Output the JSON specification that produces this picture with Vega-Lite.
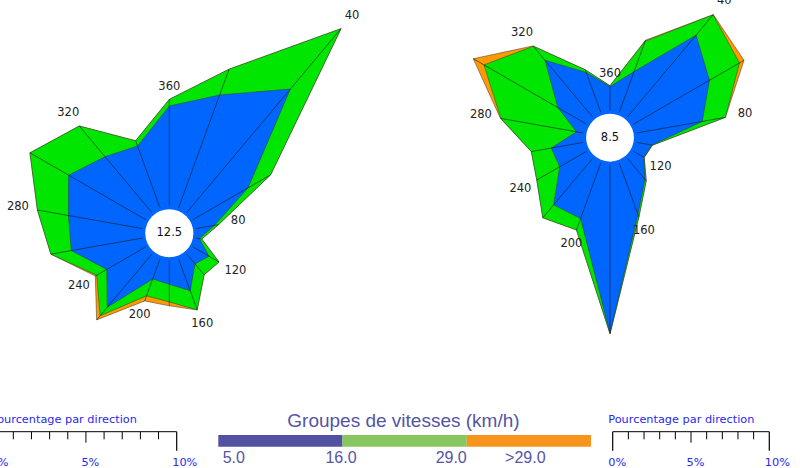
{
  "$schema": "https://vega.github.io/schema/vega-lite/v6.json",
  "width": 800,
  "height": 468,
  "autosize": {"type": "none"},
  "padding": 0,
  "background": "#ffffff",
  "config": {"view": {"stroke": null}},
  "datasets": {
    "rose": [
      {"rose": "A", "dir": 20, "v05": 6.68, "v16": 1.52, "v29": 0},
      {"rose": "A", "dir": 40, "v05": 8.96, "v16": 4.38, "v29": 0},
      {"rose": "A", "dir": 60, "v05": 3.55, "v16": 1.45, "v29": 0},
      {"rose": "A", "dir": 80, "v05": 1.05, "v16": 0.23, "v29": 0},
      {"rose": "A", "dir": 100, "v05": 0.2, "v16": 0.13, "v29": 0},
      {"rose": "A", "dir": 120, "v05": 1.04, "v16": 0.65, "v29": 0},
      {"rose": "A", "dir": 140, "v05": 0.72, "v16": 0.79, "v29": 0},
      {"rose": "A", "dir": 160, "v05": 1.89, "v16": 1.14, "v29": 0},
      {"rose": "A", "dir": 180, "v05": 1.33, "v16": 0.98, "v29": 0.22},
      {"rose": "A", "dir": 200, "v05": 1.2, "v16": 1.0, "v29": 0.3},
      {"rose": "A", "dir": 220, "v05": 3.86, "v16": 0.62, "v29": 0.3},
      {"rose": "A", "dir": 240, "v05": 2.51, "v16": 0.65, "v29": 0.09},
      {"rose": "A", "dir": 260, "v05": 4.03, "v16": 1.15, "v29": 0},
      {"rose": "A", "dir": 280, "v05": 4.19, "v16": 1.75, "v29": 0},
      {"rose": "A", "dir": 300, "v05": 4.96, "v16": 2.48, "v29": 0},
      {"rose": "A", "dir": 320, "v05": 4.06, "v16": 2.22, "v29": 0},
      {"rose": "A", "dir": 340, "v05": 3.66, "v16": 0.31, "v29": 0},
      {"rose": "A", "dir": 360, "v05": 5.57, "v16": 0.37, "v29": 0},
      {"rose": "B", "dir": 20, "v05": 2.78, "v16": 2.07, "v29": 0.07},
      {"rose": "B", "dir": 40, "v05": 6.85, "v16": 1.7, "v29": 0.02},
      {"rose": "B", "dir": 60, "v05": 5.63, "v16": 2.22, "v29": 0.34},
      {"rose": "B", "dir": 80, "v05": 4.27, "v16": 1.51, "v29": 0},
      {"rose": "B", "dir": 100, "v05": 1.0, "v16": 0.03, "v29": 0},
      {"rose": "B", "dir": 120, "v05": 0.77, "v16": 0.03, "v29": 0},
      {"rose": "B", "dir": 140, "v05": 1.75, "v16": 0.13, "v29": 0},
      {"rose": "B", "dir": 160, "v05": 3.5, "v16": 0.18, "v29": 0},
      {"rose": "B", "dir": 180, "v05": 10.8, "v16": 0.03, "v29": 0},
      {"rose": "B", "dir": 200, "v05": 3.78, "v16": 0.78, "v29": 0},
      {"rose": "B", "dir": 220, "v05": 3.89, "v16": 1.08, "v29": 0},
      {"rose": "B", "dir": 240, "v05": 1.99, "v16": 1.7, "v29": 0},
      {"rose": "B", "dir": 260, "v05": 2.09, "v16": 1.3, "v29": 0},
      {"rose": "B", "dir": 280, "v05": 0.45, "v16": 4.92, "v29": 0.03},
      {"rose": "B", "dir": 300, "v05": 2.13, "v16": 5.47, "v29": 0.79},
      {"rose": "B", "dir": 320, "v05": 4.75, "v16": 1.17, "v29": 0.03},
      {"rose": "B", "dir": 340, "v05": 2.72, "v16": 0.18, "v29": 0},
      {"rose": "B", "dir": 360, "v05": 1.55, "v16": 0.05, "v29": 0}
    ],
    "calme": [
      {"rose": "A", "calme": 12.5},
      {"rose": "B", "calme": 8.5}
    ],
    "classes": [
      {"vmin": 5},
      {"vmin": 16},
      {"vmin": 29}
    ],
    "echelle": [
      {"pct": 0}, {"pct": 1}, {"pct": 2}, {"pct": 3}, {"pct": 4}, {"pct": 5},
      {"pct": 6}, {"pct": 7}, {"pct": 8}, {"pct": 9}, {"pct": 10}
    ]
  },
  "layer": [
    {
      "layer": [
        {
          "data": {"name": "rose"},
          "transform": [
            {"filter": "datum.rose == 'A'"},
            {"fold": ["v05", "v16", "v29"], "as": ["classe", "pct"]},
            {"window": [{"op": "sum", "field": "pct", "as": "cum"}], "groupby": ["dir"], "sort": [{"field": "classe", "order": "ascending"}], "frame": [null, 0]},
            {"calculate": "1.5 + datum.cum", "as": "r"},
            {"calculate": "datum.dir * PI / 180", "as": "theta"},
            {"calculate": "datum.r * sin(datum.theta)", "as": "px"},
            {"calculate": "datum.r * cos(datum.theta)", "as": "py"}
          ],
          "encoding": {
            "x": {"field": "px", "type": "quantitative", "scale": {"domain": [-9.406, 35.039], "nice": false, "zero": false}, "axis": null},
            "y": {"field": "py", "type": "quantitative", "scale": {"domain": [-13.039, 12.961], "nice": false, "zero": false}, "axis": null}
          },
          "layer": [
            {
              "transform": [{"filter": "datum.classe == 'v29'"}],
              "mark": {"type": "line", "interpolate": "linear-closed", "filled": true, "fill": "#ff9900", "stroke": "#333333", "strokeWidth": 0.5},
              "encoding": {"order": {"field": "dir", "type": "quantitative"}}
            },
            {
              "transform": [{"filter": "datum.classe == 'v16'"}],
              "mark": {"type": "line", "interpolate": "linear-closed", "filled": true, "fill": "#00e600", "stroke": "#333333", "strokeWidth": 0.5},
              "encoding": {"order": {"field": "dir", "type": "quantitative"}}
            },
            {
              "transform": [{"filter": "datum.classe == 'v05'"}],
              "mark": {"type": "line", "interpolate": "linear-closed", "filled": true, "fill": "#0066ff", "stroke": "#333333", "strokeWidth": 0.5},
              "encoding": {"order": {"field": "dir", "type": "quantitative"}}
            },
            {
              "transform": [
                {"filter": "datum.classe == 'v29'"},
                {"calculate": "1.5 * sin(datum.theta)", "as": "sx"},
                {"calculate": "1.5 * cos(datum.theta)", "as": "sy"}
              ],
              "mark": {"type": "rule", "color": "#1a1a1a", "strokeWidth": 0.6},
              "encoding": {"x2": {"field": "sx"}, "y2": {"field": "sy"}}
            },
            {
              "transform": [
                {"filter": "datum.classe == 'v29' && datum.dir % 40 == 0"},
                {"calculate": "datum.r + (12 + 8 * abs(sin(datum.theta))) / 18", "as": "lr"},
                {"calculate": "datum.lr * sin(datum.theta)", "as": "lx"},
                {"calculate": "datum.lr * cos(datum.theta)", "as": "ly"}
              ],
              "mark": {"type": "text", "font": "DejaVu Sans", "fontSize": 11.5, "color": "#222222", "align": "center", "baseline": "middle"},
              "encoding": {
                "x": {"field": "lx", "type": "quantitative", "scale": {"domain": [-9.406, 35.039], "nice": false, "zero": false}, "axis": null},
                "y": {"field": "ly", "type": "quantitative", "scale": {"domain": [-13.039, 12.961], "nice": false, "zero": false}, "axis": null},
                "text": {"field": "dir", "type": "quantitative"}
              }
            }
          ]
        },
        {
          "data": {"name": "calme"},
          "transform": [{"filter": "datum.rose == 'A'"}],
          "encoding": {
            "x": {"datum": 0, "type": "quantitative", "scale": {"domain": [-9.406, 35.039], "nice": false, "zero": false}, "axis": null},
            "y": {"datum": 0, "type": "quantitative", "scale": {"domain": [-13.039, 12.961], "nice": false, "zero": false}, "axis": null}
          },
          "layer": [
            {"mark": {"type": "point", "shape": "circle", "filled": true, "color": "#ffffff", "opacity": 1, "size": 2316, "strokeWidth": 0}},
            {"mark": {"type": "text", "font": "DejaVu Sans", "fontSize": 11.5, "color": "#111111", "align": "center", "baseline": "middle"},
             "encoding": {"text": {"field": "calme", "type": "quantitative", "format": ".1f"}}}
          ]
        }
      ]
    },
    {
      "layer": [
        {
          "data": {"name": "rose"},
          "transform": [
            {"filter": "datum.rose == 'B'"},
            {"fold": ["v05", "v16", "v29"], "as": ["classe", "pct"]},
            {"window": [{"op": "sum", "field": "pct", "as": "cum"}], "groupby": ["dir"], "sort": [{"field": "classe", "order": "ascending"}], "frame": [null, 0]},
            {"calculate": "1.731 + datum.cum", "as": "r"},
            {"calculate": "datum.dir * PI / 180", "as": "theta"},
            {"calculate": "datum.r * sin(datum.theta)", "as": "px"},
            {"calculate": "datum.r * cos(datum.theta)", "as": "py"}
          ],
          "encoding": {
            "x": {"field": "px", "type": "quantitative", "scale": {"domain": [-39.103, 12.179], "nice": false, "zero": false}, "axis": null},
            "y": {"field": "py", "type": "quantitative", "scale": {"domain": [-21.173, 8.827], "nice": false, "zero": false}, "axis": null}
          },
          "layer": [
            {
              "transform": [{"filter": "datum.classe == 'v29'"}],
              "mark": {"type": "line", "interpolate": "linear-closed", "filled": true, "fill": "#ff9900", "stroke": "#333333", "strokeWidth": 0.5},
              "encoding": {"order": {"field": "dir", "type": "quantitative"}}
            },
            {
              "transform": [{"filter": "datum.classe == 'v16'"}],
              "mark": {"type": "line", "interpolate": "linear-closed", "filled": true, "fill": "#00e600", "stroke": "#333333", "strokeWidth": 0.5},
              "encoding": {"order": {"field": "dir", "type": "quantitative"}}
            },
            {
              "transform": [{"filter": "datum.classe == 'v05'"}],
              "mark": {"type": "line", "interpolate": "linear-closed", "filled": true, "fill": "#0066ff", "stroke": "#333333", "strokeWidth": 0.5},
              "encoding": {"order": {"field": "dir", "type": "quantitative"}}
            },
            {
              "transform": [
                {"filter": "datum.classe == 'v29'"},
                {"calculate": "1.731 * sin(datum.theta)", "as": "sx"},
                {"calculate": "1.731 * cos(datum.theta)", "as": "sy"}
              ],
              "mark": {"type": "rule", "color": "#1a1a1a", "strokeWidth": 0.6},
              "encoding": {"x2": {"field": "sx"}, "y2": {"field": "sy"}}
            },
            {
              "transform": [
                {"filter": "datum.classe == 'v29' && datum.dir % 40 == 0"},
                {"calculate": "datum.r + (12 + 8 * abs(sin(datum.theta))) / 15.6", "as": "lr"},
                {"calculate": "datum.lr * sin(datum.theta)", "as": "lx"},
                {"calculate": "datum.lr * cos(datum.theta)", "as": "ly"}
              ],
              "mark": {"type": "text", "font": "DejaVu Sans", "fontSize": 11.5, "color": "#222222", "align": "center", "baseline": "middle"},
              "encoding": {
                "x": {"field": "lx", "type": "quantitative", "scale": {"domain": [-39.103, 12.179], "nice": false, "zero": false}, "axis": null},
                "y": {"field": "ly", "type": "quantitative", "scale": {"domain": [-21.173, 8.827], "nice": false, "zero": false}, "axis": null},
                "text": {"field": "dir", "type": "quantitative"}
              }
            }
          ]
        },
        {
          "data": {"name": "calme"},
          "transform": [{"filter": "datum.rose == 'B'"}],
          "encoding": {
            "x": {"datum": 0, "type": "quantitative", "scale": {"domain": [-39.103, 12.179], "nice": false, "zero": false}, "axis": null},
            "y": {"datum": 0, "type": "quantitative", "scale": {"domain": [-21.173, 8.827], "nice": false, "zero": false}, "axis": null}
          },
          "layer": [
            {"mark": {"type": "point", "shape": "circle", "filled": true, "color": "#ffffff", "opacity": 1, "size": 2290, "strokeWidth": 0}},
            {"mark": {"type": "text", "font": "DejaVu Sans", "fontSize": 11.5, "color": "#111111", "align": "center", "baseline": "middle"},
             "encoding": {"text": {"field": "calme", "type": "quantitative", "format": ".1f"}}}
          ]
        }
      ]
    },
    {
      "data": {"name": "classes"},
      "encoding": {
        "x": {"field": "vmin", "type": "ordinal", "scale": {"range": [218.3, 591], "paddingInner": 0, "paddingOuter": 0}, "axis": null},
        "y": {"datum": 435, "type": "quantitative", "scale": {"domain": [468, 0], "nice": false, "zero": false}, "axis": null}
      },
      "layer": [
        {
          "mark": {"type": "bar"},
          "encoding": {
            "y2": {"datum": 446.7},
            "color": {"field": "vmin", "type": "ordinal", "scale": {"domain": [5, 16, 29], "range": ["#5252a2", "#88c65f", "#f7941e"]}, "legend": null}
          }
        },
        {
          "transform": [{"filter": "datum.vmin == 16"}],
          "mark": {"type": "text", "font": "Liberation Sans", "fontSize": 19, "color": "#5454a4", "align": "center", "baseline": "alphabetic", "dx": -1.2},
          "encoding": {
            "y": {"datum": 426.5, "type": "quantitative", "scale": {"domain": [468, 0], "nice": false, "zero": false}, "axis": null},
            "text": {"value": "Groupes de vitesses (km/h)"}
          }
        },
        {
          "transform": [{"filter": "datum.vmin == 5"}],
          "mark": {"type": "text", "font": "Liberation Sans", "fontSize": 16, "color": "#5454a4", "align": "left", "baseline": "alphabetic", "dx": 4.4},
          "encoding": {
            "x": {"field": "vmin", "type": "ordinal", "bandPosition": 0, "scale": {"range": [218.3, 591], "paddingInner": 0, "paddingOuter": 0}, "axis": null},
            "y": {"datum": 462.5, "type": "quantitative", "scale": {"domain": [468, 0], "nice": false, "zero": false}, "axis": null},
            "text": {"field": "vmin", "type": "quantitative", "format": ".1f"}
          }
        },
        {
          "transform": [{"filter": "datum.vmin == 16"}],
          "mark": {"type": "text", "font": "Liberation Sans", "fontSize": 16, "color": "#5454a4", "align": "center", "baseline": "alphabetic", "dx": -1.5},
          "encoding": {
            "x": {"field": "vmin", "type": "ordinal", "bandPosition": 0, "scale": {"range": [218.3, 591], "paddingInner": 0, "paddingOuter": 0}, "axis": null},
            "y": {"datum": 462.5, "type": "quantitative", "scale": {"domain": [468, 0], "nice": false, "zero": false}, "axis": null},
            "text": {"field": "vmin", "type": "quantitative", "format": ".1f"}
          }
        },
        {
          "transform": [{"filter": "datum.vmin == 29"}],
          "mark": {"type": "text", "font": "Liberation Sans", "fontSize": 16, "color": "#5454a4", "align": "right", "baseline": "alphabetic", "dx": 0},
          "encoding": {
            "x": {"field": "vmin", "type": "ordinal", "bandPosition": 0, "scale": {"range": [218.3, 591], "paddingInner": 0, "paddingOuter": 0}, "axis": null},
            "y": {"datum": 462.5, "type": "quantitative", "scale": {"domain": [468, 0], "nice": false, "zero": false}, "axis": null},
            "text": {"field": "vmin", "type": "quantitative", "format": ".1f"}
          }
        },
        {
          "transform": [{"filter": "datum.vmin == 29"}, {"calculate": "'>' + format(datum.vmin, '.1f')", "as": "etiquette"}],
          "mark": {"type": "text", "font": "Liberation Sans", "fontSize": 16, "color": "#5454a4", "align": "center", "baseline": "alphabetic", "dx": -3.6},
          "encoding": {
            "y": {"datum": 462.5, "type": "quantitative", "scale": {"domain": [468, 0], "nice": false, "zero": false}, "axis": null},
            "text": {"field": "etiquette", "type": "nominal"}
          }
        }
      ]
    },
    {
      "data": {"name": "echelle"},
      "encoding": {
        "x": {"field": "pct", "type": "quantitative", "scale": {"domain": [0, 10], "range": [-4.85, 176.7], "nice": false, "zero": false}, "axis": null},
        "y": {"datum": 431.7, "type": "quantitative", "scale": {"domain": [468, 0], "nice": false, "zero": false}, "axis": null}
      },
      "layer": [
        {
          "transform": [{"aggregate": [{"op": "min", "field": "pct", "as": "lo"}, {"op": "max", "field": "pct", "as": "hi"}]}],
          "mark": {"type": "rule", "color": "#000000", "strokeWidth": 1},
          "encoding": {
            "x": {"field": "lo", "type": "quantitative", "scale": {"domain": [0, 10], "range": [-4.85, 176.7], "nice": false, "zero": false}, "axis": null},
            "x2": {"field": "hi"}
          }
        },
        {
          "transform": [{"filter": "datum.pct % 5 != 0"}],
          "mark": {"type": "rule", "color": "#000000", "strokeWidth": 1},
          "encoding": {"y2": {"datum": 439.3}}
        },
        {
          "transform": [{"filter": "datum.pct == 5"}],
          "mark": {"type": "rule", "color": "#000000", "strokeWidth": 1},
          "encoding": {"y2": {"datum": 442.7}}
        },
        {
          "transform": [{"filter": "datum.pct % 10 == 0"}],
          "mark": {"type": "rule", "color": "#000000", "strokeWidth": 1.2},
          "encoding": {"y2": {"datum": 450.7}}
        },
        {
          "transform": [{"filter": "datum.pct % 5 == 0"}, {"calculate": "datum.pct + '%'", "as": "etiquette"}],
          "mark": {"type": "text", "font": "DejaVu Sans", "fontSize": 11.3, "color": "#2828f0", "align": "left", "baseline": "alphabetic", "dx": -4.5},
          "encoding": {
            "y": {"datum": 466, "type": "quantitative", "scale": {"domain": [468, 0], "nice": false, "zero": false}, "axis": null},
            "text": {"field": "etiquette", "type": "nominal"}
          }
        },
        {
          "transform": [{"filter": "datum.pct == 0"}],
          "mark": {"type": "text", "font": "DejaVu Sans", "fontSize": 11.3, "color": "#2828f0", "align": "left", "baseline": "alphabetic", "dx": -4.4},
          "encoding": {
            "y": {"datum": 423, "type": "quantitative", "scale": {"domain": [468, 0], "nice": false, "zero": false}, "axis": null},
            "text": {"value": "Pourcentage par direction"}
          }
        }
      ]
    },
    {
      "data": {"name": "echelle"},
      "encoding": {
        "x": {"field": "pct", "type": "quantitative", "scale": {"domain": [0, 10], "range": [612.7, 769.3], "nice": false, "zero": false}, "axis": null},
        "y": {"datum": 431.7, "type": "quantitative", "scale": {"domain": [468, 0], "nice": false, "zero": false}, "axis": null}
      },
      "layer": [
        {
          "transform": [{"aggregate": [{"op": "min", "field": "pct", "as": "lo"}, {"op": "max", "field": "pct", "as": "hi"}]}],
          "mark": {"type": "rule", "color": "#000000", "strokeWidth": 1},
          "encoding": {
            "x": {"field": "lo", "type": "quantitative", "scale": {"domain": [0, 10], "range": [612.7, 769.3], "nice": false, "zero": false}, "axis": null},
            "x2": {"field": "hi"}
          }
        },
        {
          "transform": [{"filter": "datum.pct % 5 != 0"}],
          "mark": {"type": "rule", "color": "#000000", "strokeWidth": 1},
          "encoding": {"y2": {"datum": 439.3}}
        },
        {
          "transform": [{"filter": "datum.pct == 5"}],
          "mark": {"type": "rule", "color": "#000000", "strokeWidth": 1},
          "encoding": {"y2": {"datum": 442.7}}
        },
        {
          "transform": [{"filter": "datum.pct % 10 == 0"}],
          "mark": {"type": "rule", "color": "#000000", "strokeWidth": 1.2},
          "encoding": {"y2": {"datum": 450.7}}
        },
        {
          "transform": [{"filter": "datum.pct % 5 == 0"}, {"calculate": "datum.pct + '%'", "as": "etiquette"}],
          "mark": {"type": "text", "font": "DejaVu Sans", "fontSize": 11.3, "color": "#2828f0", "align": "left", "baseline": "alphabetic", "dx": -4.5},
          "encoding": {
            "y": {"datum": 466, "type": "quantitative", "scale": {"domain": [468, 0], "nice": false, "zero": false}, "axis": null},
            "text": {"field": "etiquette", "type": "nominal"}
          }
        },
        {
          "transform": [{"filter": "datum.pct == 0"}],
          "mark": {"type": "text", "font": "DejaVu Sans", "fontSize": 11.3, "color": "#2828f0", "align": "left", "baseline": "alphabetic", "dx": -4.4},
          "encoding": {
            "y": {"datum": 423, "type": "quantitative", "scale": {"domain": [468, 0], "nice": false, "zero": false}, "axis": null},
            "text": {"value": "Pourcentage par direction"}
          }
        }
      ]
    }
  ],
  "resolve": {"scale": {"x": "independent", "y": "independent"}}
}
